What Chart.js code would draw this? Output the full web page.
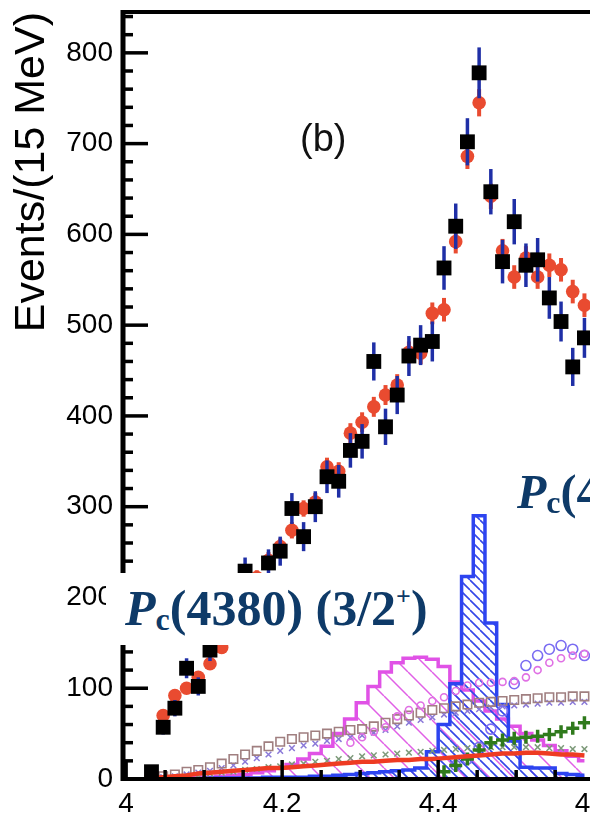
<!DOCTYPE html>
<html>
<head>
<meta charset="utf-8">
<script src="https://cdn.jsdelivr.net/npm/chart.js@4.4.1/dist/chart.umd.min.js"></script>
<style>
  html, body { margin: 0; padding: 0; background: #fff; overflow: hidden; }
  #wrap { position: relative; width: 590px; height: 813px; overflow: hidden; }
  #plot { position: absolute; left: 0; top: 0; }
  .pc { position: absolute; background: #fff; color: #0e3a68; font-family: "Liberation Serif", "Times New Roman", serif;
        font-weight: bold; font-size: 48px; line-height: 48px; white-space: nowrap; }
  .pc i { font-style: italic; }
  .pc sub { font-size: 32px; vertical-align: -5px; line-height: 0; }
  .pc sup { font-size: 26px; vertical-align: 20px; line-height: 0; }
  #tag { position: absolute; left: 300px; top: 117px; font: 38px "Liberation Sans", Arial, sans-serif; color: #111; }
</style>
</head>
<body>
<div id="wrap">
  <canvas id="plot" width="660" height="813"></canvas>
  <div id="tag">(b)</div>
  <div class="pc" style="left:106px; top:573px; width:339px; height:72px; font-size:50px; line-height:50px;">
    <span style="position:absolute; left:19px; top:10px;"><i>P</i><sub>c</sub>(4380) (3/2<sup>+</sup>)</span>
  </div>
  <div class="pc" style="left:513px; top:468px; padding-left:4px;"><i>P</i><sub>c</sub>(4450) (5/2<sup>+</sup>)</div>
</div>
<script>
// m(J/psi p) bin centres, 15 MeV bins
const massBins = [4.0325, 4.0475, 4.0625, 4.0775, 4.0925, 4.1075, 4.1225, 4.1375, 4.1525, 4.1675,
                  4.1825, 4.1975, 4.2125, 4.2275, 4.2425, 4.2575, 4.2725, 4.2875, 4.3025, 4.3175,
                  4.3325, 4.3475, 4.3625, 4.3775, 4.3925, 4.4075, 4.4225, 4.4375, 4.4525, 4.4675,
                  4.4825, 4.4975, 4.5125, 4.5275, 4.5425, 4.5575, 4.5725, 4.5875];

// data (black squares) and their errors
const dataCounts = [8, 57, 78, 122, 102, 142, 172, 198, 229, 212, 238, 251, 298, 267, 300, 333, 328, 362, 372, 460,
                    388, 423, 466, 478, 482, 563, 609, 702, 778, 647, 570, 614, 566, 572, 530, 504, 454, 486];
const dataErrors = [3, 8, 9, 11, 10, 12, 13, 14, 15, 15, 15, 16, 17, 16, 17, 18, 18, 19, 19, 21,
                    20, 21, 22, 22, 22, 24, 25, 26, 28, 25, 24, 25, 24, 24, 23, 22, 21, 22];

// full fit (red circles)
const fitCounts = [4, 70, 92, 100, 112, 127, 145, 172, 205, 222, 241, 256, 274, 298, 305, 344, 339, 381, 393, 410,
                   423, 434, 470, 469, 513, 517, 592, 686, 745, 642, 582, 553, 574, 553, 566, 561, 537, 522];
const fitErrors = [1, 5, 5, 6, 6, 6, 7, 7, 8, 8, 9, 9, 9, 9, 10, 10, 10, 11, 11, 11,
                   11, 12, 12, 12, 12, 13, 13, 14, 15, 14, 13, 13, 13, 13, 13, 13, 13, 13];

// fit components
const pc4450 = [0, 0, 0, 0, 0, 1, 1, 1, 1, 1, 2, 2, 2, 2, 3, 3, 4, 5, 6, 7,
                8, 9, 10, 12, 30, 60, 105, 223, 290, 172, 82, 42, 13, 12, 12, 6, 5, 4];
const pc4380 = [0, 0, 1, 1, 2, 2, 3, 4, 5, 7, 9, 12, 16, 22, 28, 36, 50, 66, 84, 102,
                118, 128, 133, 134, 132, 124, 107, 98, 86, 75, 66, 58, 50, 43, 37, 31, 25, 20];
const lambdaA = [null, null, null, null, null, null, null, null, null, null, null, null, null, null, null, null, null, null, null, null,
                 null, null, null, null, null, null, 15, 22, 35, 55, 75, 105, 125, 136, 143, 147, 143, 136];
const lambdaB = [null, null, null, null, null, null, null, null, null, null, null, null, null, null, null, null, null, 40, 46, 52,
                 57, 69, 76, 81, 86, 90, 97, 103, 106, 106, 107, 108, 112, 120, 128, 133, 136, 138];
const lambdaC = [1, 3, 5, 8, 10, 13, 17, 22, 27, 31, 36, 41, 44, 46, 48, 50, 52, 54, 55, 58,
                 62, 66, 70, 73, 76, 78, 80, 82, 84, 85, 86, 87, 88, 89, 90, 90, 91, 91];
const lambdaD = [null, null, null, null, null, null, null, null, null, null, null, null, null, null, null, null, null, null, null, null,
                 null, null, null, null, null, 8, 15, 22, 32, 40, 43, 45, 46, 47, 49, 52, 56, 62];
const lambdaE = [0, 1, 2, 3, 4, 6, 7, 8, 10, 11, 13, 14, 16, 17, 19, 20, 22, 23, 25, 26,
                 27, 28, 29, 30, 31, 32, 33, 34, 34, 35, 35, 35, 35, 35, 34, 34, 33, 33];
const lambdaF = [0, 2, 3, 5, 7, 9, 12, 15, 19, 23, 27, 31, 34, 37, 39, 42, 44, 46, 48, 51,
                 54, 58, 62, 65, 68, 71, 73, 75, 77, 79, 80, 81, 82, 83, 84, 84, 85, 85];
const nonResonant = [1, 2, 3, 4, 6, 7, 8, 9, 10, 11, 12, 12, 13, 14, 15, 16, 17, 18, 19, 19,
                     20, 21, 21, 22, 22, 23, 24, 25, 26, 27, 28, 28, 29, 29, 28, 27, 27, 26];
const floorMarks = [0, 0, 0, 0, 0, 0, 0, 0, 0, 0, 0, 0, 0, 0, 0, 0, 0, 0, 0, 0,
                    0, 0, 0, 0, 0, 0, 0, 0, 0, 0, 0, 0, 0, 0, 0, 0, 0, 0];

// axis tick labels
const massTicks = [4.0, 4.2, 4.4, 4.6];
const eventTicks = [0, 100, 200, 300, 400, 500, 600, 700, 800];

const pts = ys => massBins.map((x, i) => ({ x, y: ys[i] }));
const errs = (ys, es) => massBins.map((x, i) => ({ x, y: [ys[i] - es[i], ys[i] + es[i]] }));

function hatch(color, gap, width) {
  const c = document.createElement('canvas');
  c.width = c.height = gap;
  const g = c.getContext('2d');
  g.strokeStyle = color;
  g.lineWidth = width;
  g.beginPath();
  for (const o of [-gap, 0, gap]) {
    g.moveTo(o, 0);
    g.lineTo(o + gap, gap);
  }
  g.stroke();
  return g.createPattern(c, 'repeat');
}

// inward ticks and frame drawn over the marks
const frame = {
  id: 'frame',
  afterDatasetsDraw(chart) {
    const { ctx, chartArea: a, scales: { x, y } } = chart;
    const seg = (x0, y0, x1, y1) => { ctx.beginPath(); ctx.moveTo(x0, y0); ctx.lineTo(x1, y1); ctx.stroke(); };
    ctx.save();
    ctx.strokeStyle = '#000';
    ctx.lineWidth = 3.5;
    for (let v = 0; v <= 840; v += 20) {
      const py = y.getPixelForValue(v);
      seg(a.left, py, a.left + (v % 100 === 0 ? 25 : 10), py);
    }
    for (let i = 0; i <= 13; i++) {
      const px = x.getPixelForValue(4 + i * 0.05);
      seg(px, a.bottom, px, a.bottom - (i % 4 === 0 ? 19 : 9));
    }
    ctx.lineWidth = 4;
    seg(a.left - 2, a.top, a.right, a.top);
    seg(a.left - 2, a.bottom, a.right, a.bottom);
    ctx.lineWidth = 5;
    seg(a.left, a.top - 2, a.left, a.bottom + 2);
    ctx.restore();
  }
};

const blueHatch = hatch('#3347e8', 10, 1.6);
const pinkHatch = hatch('#e060e6', 24, 1.5);

new Chart(document.getElementById('plot'), {
  type: 'scatter',
  data: {
    datasets: [
      { data: pts(dataCounts), pointStyle: 'rect', pointRadius: 10.5, backgroundColor: '#000', borderWidth: 0, order: 0 },
      { type: 'bar', data: errs(dataCounts, dataErrors), backgroundColor: '#1f2fa6', maxBarThickness: 3.5, grouped: false, order: 1 },
      { data: pts(fitCounts), pointStyle: 'circle', pointRadius: 6.8, backgroundColor: '#e94b30', borderWidth: 0, order: 2 },
      { type: 'bar', data: errs(fitCounts, fitErrors), backgroundColor: '#e94b30', maxBarThickness: 4, grouped: false, order: 3 },
      { type: 'line', data: pts(nonResonant), borderColor: '#ee3b22', borderWidth: 4.5, pointRadius: 0, order: 4 },
      { data: pts(lambdaD), pointStyle: 'cross', pointRadius: 6.5, borderColor: '#2f7a1c', borderWidth: 3.5, order: 5 },
      { data: pts(lambdaB), pointStyle: 'circle', pointRadius: 3.5, borderColor: '#e070e4', backgroundColor: 'rgba(0,0,0,0)', borderWidth: 1.6, order: 6 },
      { data: pts(lambdaA), pointStyle: 'circle', pointRadius: 5, borderColor: '#7a6cf2', backgroundColor: 'rgba(0,0,0,0)', borderWidth: 1.6, order: 7 },
      { data: pts(lambdaC), pointStyle: 'rect', pointRadius: 6, borderColor: '#a07f80', backgroundColor: 'rgba(0,0,0,0)', borderWidth: 1.6, order: 8 },
      { data: pts(lambdaF), pointStyle: 'crossRot', pointRadius: 4, borderColor: '#8a78d8', borderWidth: 1.5, order: 8.5 },
      { data: pts(lambdaE), pointStyle: 'crossRot', pointRadius: 4, borderColor: '#7d9a7a', borderWidth: 1.5, order: 9 },
      { type: 'line', data: pts(pc4450), stepped: 'middle', borderColor: '#2d44f0', borderWidth: 3.5, pointRadius: 0,
        fill: 'origin', backgroundColor: blueHatch, order: 10 },
      { type: 'line', data: pts(pc4380), stepped: 'middle', borderColor: '#e052e6', borderWidth: 3.5, pointRadius: 0,
        fill: 'origin', backgroundColor: pinkHatch, order: 11 },
      { data: pts(floorMarks), pointStyle: 'line', pointRadius: 4, borderColor: '#4db3b8', borderWidth: 2, clip: false, order: 12 }
    ]
  },
  options: {
    responsive: false,
    animation: false,
    events: [],
    layout: { padding: { top: 12, right: 19, left: 0, bottom: 0 } },
    plugins: { legend: { display: false }, tooltip: { enabled: false } },
    scales: {
      x: {
        type: 'linear', min: 3.996, max: 4.66, offset: false,
        grid: { display: false, drawTicks: false }, border: { display: false },
        afterBuildTicks: s => { s.ticks = massTicks.map(v => ({ value: v })); },
        ticks: { color: '#000', padding: 8, maxRotation: 0,
                 font: { family: 'Liberation Sans', size: 28 },
                 callback: v => String(Math.round(v * 10) / 10) },
        afterFit: s => { s.height = 34; s.paddingLeft = 0; s.paddingRight = 0; }
      },
      y: {
        min: 0, max: 845,
        grid: { display: false, drawTicks: false }, border: { display: false },
        afterBuildTicks: s => { s.ticks = eventTicks.map(v => ({ value: v })); },
        ticks: { color: '#000', padding: 10, font: { family: 'Liberation Sans', size: 28 } },
        title: { display: true, text: 'Events/(15 MeV)', align: 'end', color: '#000', padding: { top: 6, bottom: 0 },
                 font: { family: 'Liberation Sans', size: 43 } },
        afterFit: s => { s.width = 123; s.paddingTop = 0; s.paddingBottom = 0; }
      }
    }
  },
  plugins: [frame]
});
</script>
</body>
</html>
